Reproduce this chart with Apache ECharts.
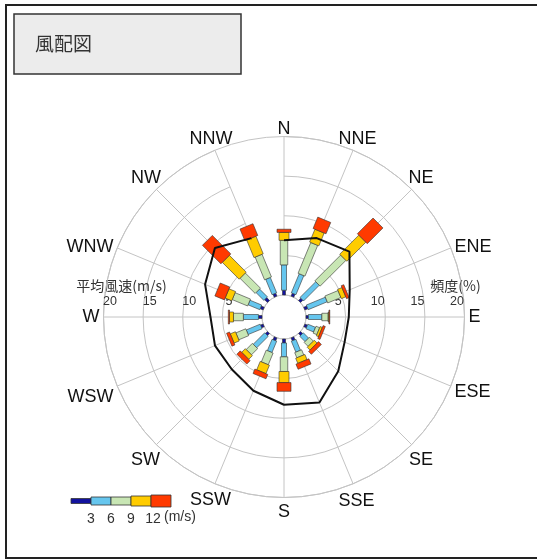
<!DOCTYPE html>
<html>
<head>
<meta charset="utf-8">
<script src="https://cdn.jsdelivr.net/npm/echarts@6/dist/echarts.min.js"></script>
<style>
html, body { margin: 0; padding: 0; background: #fff; }
#windRose { width: 537px; height: 560px; }
</style>
</head>
<body>
<div id="windRose"></div>
<script>
// 16方位
var directions = ['N', 'NNE', 'NE', 'ENE', 'E', 'ESE', 'SE', 'SSE', 'S', 'SSW', 'SW', 'WSW', 'W', 'WNW', 'NW', 'NNW'];
// 風速階級別の出現頻度(%)
var freqBelow3 = [0.6, 0.4, 0.4, 0.4, 0.3, 0.35, 0.35, 0.4, 0.5, 0.4, 0.35, 0.35, 0.45, 0.4, 0.5, 0.4];
var freq3to6   = [3.2, 2.6, 2.8, 2.6, 1.7, 1.05, 0.95, 1.5, 1.75, 1.55, 2.05, 1.9, 1.9, 1.6, 1.4, 2.1];
var freq6to9   = [3.1, 4.2, 4.6, 1.8, 0.8, 0.5, 0.7, 0.7, 1.85, 1.6, 1.1, 1.35, 1.25, 2.1, 2.7, 3.1];
var freq9to12  = [1.0, 1.75, 3.4, 0.6, 0.1, 0.3, 0.5, 0.7, 1.4, 1.15, 0.65, 0.7, 0.5, 0.9, 3.0, 2.4];
var freqOver12 = [0.4, 1.55, 2.8, 0.35, 0.1, 0.3, 0.5, 0.7, 1.1, 0.6, 0.6, 0.4, 0.15, 1.3, 3.3, 1.6];
// 平均風速(m/s)
var avgSpeed = [6.9, 8.0, 8.9, 6.2, 5.4, 5.5, 6.9, 8.9, 8.3, 7.3, 6.55, 6.65, 6.5, 8.0, 9.55, 8.0];
// 凡例の階級境界(m/s)
var speedBreaks = [3, 6, 9, 12];

var classColors = ['#12129e', '#66c6ee', '#c8e6b4', '#ffcc00', '#ff3a00'];
var classWidths = [3, 5, 7.5, 10, 14];
var gridColor = '#c4c4c4';
var latinFont = '"Liberation Sans", Arial, "Noto Sans CJK JP", sans-serif';
var cjkFont = '"Noto Sans CJK JP", "Liberation Sans", sans-serif';

// 方位ラベルの位置調整 [上, 右, 下, 左] のpadding
var labelPad = {
    N: [0, 0, -6, 0], NNE: [0, 0, -1.5, -16], NE: [0, 0, 0, -6], ENE: [0, 0, -10, 0],
    E: [0, 0, 0, 0], ESE: [-5, 0, 0, 0], SE: [3.5, 0, 0, -5.5], SSE: [5, 0, 0, -16],
    S: [2, 0, 0, 0], SSW: [4, -17.5, 0, 0], SW: [4, -6.5, 0, 0], WSW: [0, 0, 0, 0],
    W: [0, 0, 0, 0], WNW: [0, 0, -9.5, 0], NW: [0, -7.5, 0, 0], NNW: [0, -19, -1.5, 0]
};
var categoryData = directions.map(function (d) {
    return { value: d, textStyle: { padding: labelPad[d] } };
});

// 積み上げ区間 [方位, 始点, 終点, 階級]
var classes = [freqBelow3, freq3to6, freq6to9, freq9to12, freqOver12];
var barData = [];
directions.forEach(function (d, i) {
    var base = 0;
    classes.forEach(function (arr, k) {
        barData.push([i, base, base + arr[i], k]);
        base += arr[i];
    });
});

var lineData = avgSpeed.map(function (v, i) { return [v, i]; });
lineData.push([avgSpeed[0], 0]);

// 凡例(カラーバー)
var legendX = 71, legendY = 501, segW = 20;
var segH = [5, 8, 8, 10, 12];
var legendItems = [];
classColors.forEach(function (c, k) {
    legendItems.push({
        type: 'rect',
        shape: { x: legendX + k * segW, y: legendY - segH[k] / 2, width: segW, height: segH[k] },
        style: { fill: c, stroke: '#333', lineWidth: 0.8 }
    });
});
speedBreaks.forEach(function (s, k) {
    legendItems.push({
        type: 'text',
        x: legendX + (k + 1) * segW + (s >= 10 ? 2 : 0),
        y: 519,
        style: { text: String(s), align: 'center', verticalAlign: 'middle', fontSize: 14, fontFamily: latinFont, fill: '#333' }
    });
});
legendItems.push({
    type: 'text',
    x: 164,
    y: 517,
    style: { text: '(m/s)', align: 'left', verticalAlign: 'middle', fontSize: 14, fontFamily: latinFont, fill: '#333' }
});

var myChart = echarts.init(document.getElementById('windRose'));
var center = [284, 317];
var radius = [22, 180.5];

option = {
    animation: false,
    backgroundColor: '#fff',
    title: {
        text: '風配図',
        left: 14,
        top: 14,
        padding: [20, 149, 21, 21],
        backgroundColor: '#ececec',
        borderColor: '#333',
        borderWidth: 1.5,
        textStyle: { fontSize: 19, fontWeight: 'normal', color: '#333', fontFamily: cjkFont }
    },
    graphic: [
        {
            type: 'rect',
            shape: { x: 6, y: 5, width: 545, height: 553 },
            style: { fill: 'none', stroke: '#222', lineWidth: 2 },
            z: -1
        },
        { type: 'group', children: legendItems }
    ],
    polar: [
        { center: center, radius: radius },
        { center: center, radius: radius },
        { center: center, radius: radius }
    ],
    angleAxis: [{
        polarIndex: 0,
        type: 'category',
        data: categoryData,
        boundaryGap: false,
        startAngle: 90,
        clockwise: true,
        axisLine: { lineStyle: { color: gridColor, width: 1 } },
        axisTick: { show: false },
        axisLabel: { margin: 4, color: '#111', fontSize: 18, fontFamily: latinFont },
        splitLine: { show: true, lineStyle: { color: gridColor, width: 1 } }
    }, {
        polarIndex: 1, type: 'value', min: 0, max: 360, startAngle: 0, show: false
    }, {
        polarIndex: 2, type: 'value', min: 0, max: 360, startAngle: 180, show: false
    }],
    radiusAxis: [{
        polarIndex: 0,
        min: 0,
        max: 20,
        interval: 5,
        axisLine: { show: false },
        axisTick: { show: false },
        axisLabel: { show: false },
        splitLine: { show: true, showMinLine: false, lineStyle: { color: gridColor, width: 1 } }
    }, {
        // 頻度(%)
        polarIndex: 1,
        min: 0,
        max: 20,
        interval: 5,
        name: '頻度(%)',
        nameLocation: 'end',
        nameGap: -9,
        nameMoveOverlap: false,
        nameTextStyle: { fontSize: 14, color: '#333', fontFamily: cjkFont, align: 'center', verticalAlign: 'bottom', padding: [0, 0, 24, 0] },
        axisLine: { show: false },
        axisTick: { show: false },
        splitLine: { show: false },
        axisLabel: { showMinLabel: false, margin: 15.5, verticalAlign: 'middle', align: 'center', padding: [0, 15, 0, 0], fontSize: 12.5, color: '#333', fontFamily: latinFont }
    }, {
        // 平均風速(m/s)
        polarIndex: 2,
        min: 0,
        max: 20,
        interval: 5,
        name: '平均風速(m/s)',
        nameLocation: 'end',
        nameGap: -18,
        nameMoveOverlap: false,
        nameTextStyle: { fontSize: 14, color: '#333', fontFamily: cjkFont, align: 'center', verticalAlign: 'bottom', padding: [0, 0, 24, 0] },
        axisLine: { show: false },
        axisTick: { show: false },
        splitLine: { show: false },
        axisLabel: { showMinLabel: false, margin: -15.5, verticalAlign: 'middle', align: 'center', padding: [0, 0, 0, 13], fontSize: 12.5, color: '#333', fontFamily: latinFont }
    }],
    series: [{
        name: '頻度',
        type: 'custom',
        coordinateSystem: 'polar',
        polarIndex: 0,
        encode: { angle: 0, radius: 2 },
        data: barData,
        z: 3,
        renderItem: function (params, api) {
            var dir = api.value(0);
            var p0 = api.coord([api.value(1), dir]);
            var p1 = api.coord([api.value(2), dir]);
            var k = api.value(3);
            var dx = p1[0] - p0[0], dy = p1[1] - p0[1];
            var len = Math.sqrt(dx * dx + dy * dy);
            if (len < 0.01) return;
            var nx = -dy / len, ny = dx / len;
            var h = classWidths[k] / 2;
            return {
                type: 'polygon',
                shape: {
                    points: [
                        [p0[0] + nx * h, p0[1] + ny * h],
                        [p1[0] + nx * h, p1[1] + ny * h],
                        [p1[0] - nx * h, p1[1] - ny * h],
                        [p0[0] - nx * h, p0[1] - ny * h]
                    ]
                },
                style: { fill: classColors[k], stroke: '#333', lineWidth: 0.6 }
            };
        }
    }, {
        name: '平均風速',
        type: 'line',
        coordinateSystem: 'polar',
        polarIndex: 0,
        data: lineData,
        symbol: 'none',
        z: 5,
        lineStyle: { color: '#111', width: 2 }
    }]
};
myChart.setOption(option);
</script>
</body>
</html>
